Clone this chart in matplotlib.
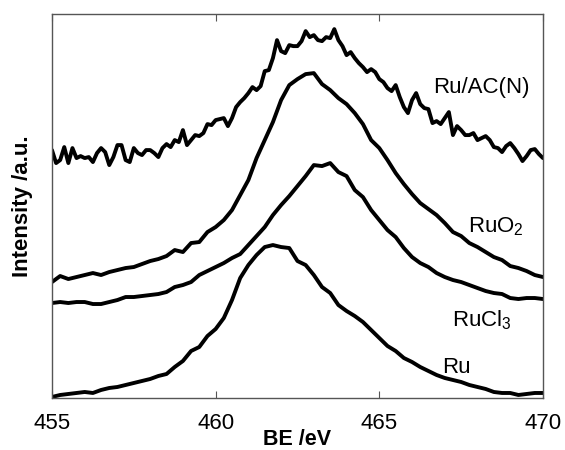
import matplotlib
matplotlib.use('Agg')
import matplotlib.pyplot as plt
import numpy as np

plt.rcParams['font.family'] = ['Liberation Sans', 'DejaVu Sans']
plt.rcParams['mathtext.default'] = 'regular'

# binding energy grids (eV)
be = np.linspace(455, 470, 61)        # 0.25 eV step
be_fine = np.linspace(455, 470, 121)  # 0.125 eV step for the noisy Ru/AC(N) scan

# intensities (a.u., curves already offset as in the figure)
ru = [1, 3, 4, 5, 6, 5, 8, 10, 11, 13,
      15, 17, 19, 22, 24, 31, 37, 47, 51, 62,
      69, 80, 98, 120, 133, 143, 151, 153, 151, 150,
      137, 133, 123, 111, 105, 93, 87, 82, 76, 68,
      60, 52, 47, 40, 36, 31, 27, 23, 20, 18,
      16, 13, 11, 9, 6, 5, 5, 3, 4, 5,
      5]

rucl3 = [95, 96, 95, 96, 96, 94, 94, 96, 98, 101,
         101, 102, 103, 104, 106, 111, 113, 116, 123, 127,
         131, 135, 140, 144, 153, 162, 171, 183, 193, 202,
         212, 222, 233, 232, 235, 226, 222, 208, 201, 188,
         178, 168, 161, 150, 141, 135, 131, 125, 121, 118,
         116, 113, 110, 107, 105, 104, 100, 99, 100, 100,
         99]

ruo2 = [116, 122, 119, 121, 123, 125, 123, 126, 128, 130,
        131, 134, 137, 139, 142, 148, 146, 155, 156, 166,
        171, 178, 188, 203, 218, 240, 258, 276, 298, 313,
        319, 324, 325, 314, 308, 300, 294, 285, 274, 258,
        250, 238, 225, 214, 204, 195, 189, 183, 175, 166,
        162, 155, 151, 146, 141, 138, 132, 130, 127, 123,
        121]

ru_ac = [248, 235, 238, 251, 235, 250, 240, 242, 240, 241,
         236, 245, 250, 246, 233, 241, 253, 253, 238, 236,
         250, 245, 243, 248, 248, 245, 241, 250, 254, 251,
         258, 256, 268, 253, 258, 263, 262, 265, 274, 273,
         278, 279, 280, 272, 280, 291, 296, 300, 305, 311,
         308, 312, 327, 328, 340, 358, 347, 345, 353, 352,
         352, 357, 367, 361, 363, 358, 357, 361, 360, 369,
         358, 352, 343, 346, 340, 335, 331, 326, 329, 326,
         319, 316, 310, 307, 313, 301, 291, 285, 298, 305,
         294, 290, 289, 275, 277, 274, 280, 286, 263, 272,
         268, 263, 263, 265, 258, 260, 262, 258, 251, 250,
         246, 252, 255, 250, 244, 237, 242, 248, 249, 244,
         240]

labels = ['Ru', 'RuCl$_3$', 'RuO$_2$', 'Ru/AC(N)']
label_x = [466.93, 467.23, 467.7, 466.65]
label_y = [30, 78, 171, 311]


def main():
    fig = plt.figure(figsize=(5.65, 4.5), dpi=100)
    ax = fig.add_axes([0.092, 0.1156, 0.869, 0.853])

    for x, y in [(be, ru), (be, rucl3), (be, ruo2), (be_fine, ru_ac)]:
        ax.plot(x, y, color='black', lw=2.8, solid_joinstyle='round',
                solid_capstyle='round')

    for lab, lx, ly in zip(labels, label_x, label_y):
        ax.text(lx, ly, lab, fontsize=16, ha='left', va='center')

    ax.set_xlim(455, 470)
    ax.set_ylim(0, 384)
    ax.set_xticks([455, 460, 465, 470])
    ax.set_yticks([])
    ax.tick_params(axis='x', direction='in', top=True, length=5,
                   labelsize=16, pad=11, color='#555555')
    for sp in ax.spines.values():
        sp.set_color('#555555')
        sp.set_linewidth(1.0)

    ax.set_xlabel('BE /eV', fontsize=15.5, fontweight='bold', labelpad=-4)
    ax.set_ylabel('Intensity /a.u.', fontsize=16, fontweight='bold', labelpad=14)

    fig.savefig('out.png', dpi=100)
    plt.close(fig)


if __name__ == "__main__":
    main()
